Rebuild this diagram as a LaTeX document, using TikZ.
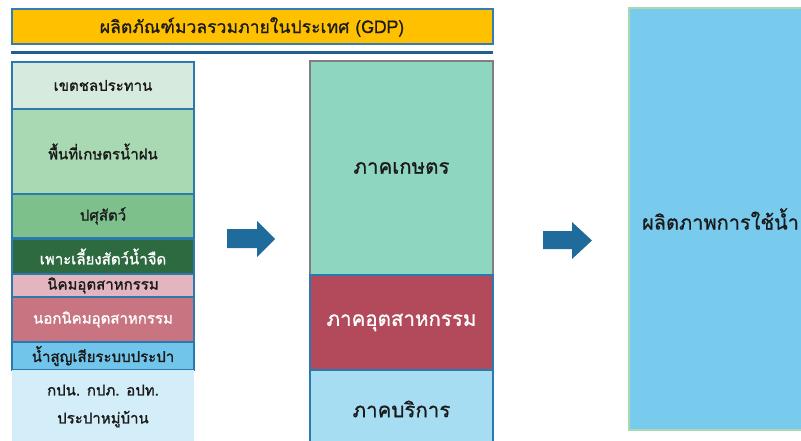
\documentclass[tikz,border=0pt]{standalone}
\usepackage{fontspec}
\newfontfamily\thai[Script=Thai,FakeBold=0.8]{Loma}
\newfontfamily\thaib[Script=Thai,FakeBold=1.4]{Loma}
\definecolor{titlefill}{HTML}{FFC000}
\definecolor{titledraw}{HTML}{2F7EB8}
\definecolor{rulecol}{HTML}{1F5E91}
\definecolor{boxdraw}{HTML}{2A7AB0}
\definecolor{cA}{HTML}{D6EADD}
\definecolor{cB}{HTML}{A9D9B2}
\definecolor{cC}{HTML}{7DC08C}
\definecolor{cD}{HTML}{2D6A3F}
\definecolor{cE}{HTML}{E3B5BE}
\definecolor{cF}{HTML}{C97481}
\definecolor{cG}{HTML}{71C5EA}
\definecolor{cH}{HTML}{D3EDF9}
\definecolor{mA}{HTML}{8FD6C1}
\definecolor{mAdraw}{HTML}{7F7F7F}
\definecolor{mB}{HTML}{B24A5B}
\definecolor{mC}{HTML}{A6DDF3}
\definecolor{rfill}{HTML}{79CBEE}
\definecolor{rdraw}{HTML}{A9D9B3}
\definecolor{arrowcol}{HTML}{1F6B9C}
\definecolor{txt}{HTML}{1A1A1A}
\begin{document}
\begin{tikzpicture}[x=1pt,y=-1pt,
  lbox/.style={draw=boxdraw,line width=1.5pt,minimum width=182pt,inner sep=0pt,outer sep=0pt,
    font=\thaib\fontsize{15}{18}\selectfont,text=txt,align=center},
  mbox/.style={draw=boxdraw,line width=1.5pt,minimum width=183pt,inner sep=0pt,outer sep=0pt,
    font=\thai\fontsize{20.5}{24}\selectfont,text=txt,align=center},
  blockarrow/.style={fill=arrowcol}]
\useasboundingbox (0,0) rectangle (801,441);
\clip (0,0) rectangle (801,441);
\fill[white] (0,0) rectangle (801,441);
% title
\node[draw=titledraw,fill=titlefill,line width=2pt,minimum width=481pt,minimum height=35pt,inner sep=0pt,
  font=\thai\fontsize{17.6}{20}\selectfont,text=txt] (title) at (252,27) {ผลิตภัณฑ์มวลรวมภายในประเทศ (GDP)};
\coordinate (ruleL) at (11,53);
\coordinate (ruleR) at (493,53);
\draw[rulecol,line width=3pt] (ruleL) -- (ruleR);
% left column
\node[lbox,fill=cA,minimum height=47pt] (b1) at (103,85.5) {เขตชลประทาน};
\node[lbox,fill=cB,minimum height=85pt] (b2) at (103,151.5) {พื้นที่เกษตรน้ำฝน};
\node[lbox,fill=cC,minimum height=44pt] (b3) at (103,216) {ปศุสัตว์};
\node[lbox,fill=cD,minimum height=35pt,text=white] (b4) at (103,256.5) {เพาะเลี้ยงสัตว์น้ำจืด};
\node[lbox,fill=cE,minimum height=23pt] (b5) at (103,285.5) {นิคมอุตสาหกรรม};
\node[lbox,fill=cF,minimum height=45pt,text=white] (b6) at (103,319.5) {นอกนิคมอุตสาหกรรม};
\node[lbox,fill=cG,minimum height=28pt] (b7) at (103,356) {น้ำสูญเสียระบบประปา};
\node[lbox,draw=none,fill=cH,minimum height=72pt,font=\thaib\fontsize{15}{28}\selectfont] (b8) at (103,406) {กปน. กปภ. อปท.\\ประปาหมู่บ้าน};
% middle column
\node[mbox,fill=mA,draw=mAdraw,minimum height=214pt] (m1) at (401.5,168) {ภาคเกษตร};
\node[mbox,fill=mB,minimum height=95pt,text=white] (m2) at (401.5,322.5) {ภาคอุตสาหกรรม};
\node[mbox,fill=mC,minimum height=78pt] (m3) at (401.5,409) {ภาคบริการ};
% right box
\node[draw=rdraw,fill=rfill,line width=2pt,minimum width=183pt,minimum height=422pt,inner sep=0pt,
  font=\thai\fontsize{20}{24}\selectfont,text=txt] (r) at (720.5,219) {ผลิตภาพการใช้น้ำ};
% block arrows
\fill[blockarrow] (227,229) -- (257,229) -- (257,221) -- (275,239) -- (257,257) -- (257,248) -- (227,248) -- cycle;
\fill[blockarrow] (543,231) -- (572,231) -- (572,222) -- (592,240.5) -- (572,259) -- (572,249) -- (543,249) -- cycle;
\end{tikzpicture}
\end{document}
